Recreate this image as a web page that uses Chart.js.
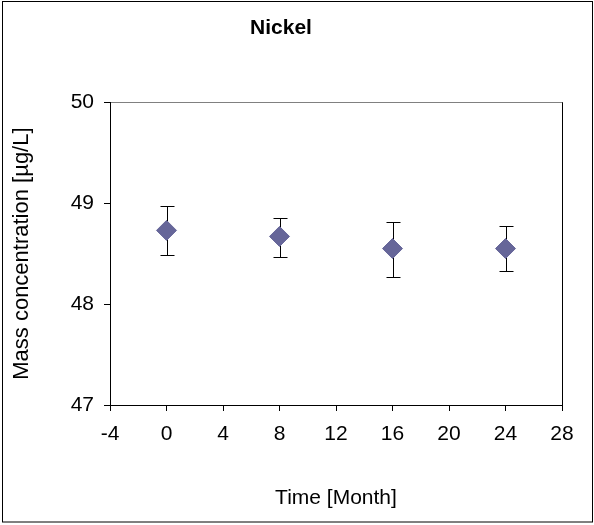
<!DOCTYPE html>
<html>
<head>
<meta charset="utf-8">
<script src="https://cdn.jsdelivr.net/npm/chart.js@4"></script>
<style>
  html, body { margin: 0; padding: 0; background: #fff; }
  #wrap { width: 594px; height: 525px; position: relative; }
</style>
</head>
<body>
<div id="wrap"><canvas id="nickel"></canvas></div>
<script>
// Nickel stability study
const months = [0, 8, 16, 24]
const massConc = [48.73, 48.67, 48.55, 48.55]
const errLow = [48.49, 48.47, 48.27, 48.33]
const errHigh = [48.97, 48.85, 48.81, 48.77]

const xTicks = [-4, 0, 4, 8, 12, 16, 20, 24, 28]
const yTicks = [47, 48, 49, 50]

const font = 'Liberation Sans, Arial, sans-serif'

// vertical error bars with caps, drawn behind the diamonds
const errorBars = {
    id: 'errorBars',
    beforeDatasetsDraw(chart) {
        const ctx = chart.ctx
        const x = chart.scales.x
        const y = chart.scales.y
        ctx.save()
        ctx.strokeStyle = '#000'
        ctx.lineWidth = 1
        months.forEach((m, i) => {
            const px = Math.round(x.getPixelForValue(m)) + 0.5
            const top = Math.round(y.getPixelForValue(errHigh[i])) + 0.5
            const bot = Math.round(y.getPixelForValue(errLow[i])) + 0.5
            ctx.beginPath()
            ctx.moveTo(px, top); ctx.lineTo(px, bot)
            ctx.moveTo(px - 7, top); ctx.lineTo(px + 7, top)
            ctx.moveTo(px - 7, bot); ctx.lineTo(px + 7, bot)
            ctx.stroke()
        })
        ctx.restore()
    }
}

// outer chart frame
const frame = {
    id: 'frame',
    afterDraw(chart) {
        const ctx = chart.ctx
        ctx.save()
        ctx.strokeStyle = '#000'
        ctx.lineWidth = 1
        ctx.strokeRect(2.5, 1.5, 590, 520.5)
        ctx.restore()
    }
}

new Chart(document.getElementById('nickel'), {
    type: 'scatter',
    data: {
        datasets: [{
            label: 'Nickel',
            data: months.map((m, i) => ({x: m, y: massConc[i]})),
            pointStyle: 'rectRot',
            pointRadius: 10,
            pointHoverRadius: 10,
            borderWidth: 1,
            backgroundColor: '#666699',
            borderColor: '#666699'
        }]
    },
    options: {
        responsive: true,
        maintainAspectRatio: false,
        animation: false,
        layout: {padding: {left: 0, right: 32, top: 0, bottom: 0}},
        plugins: {
            legend: {display: false},
            tooltip: {enabled: false},
            title: {
                display: true,
                text: 'Nickel',
                color: '#000',
                font: {family: font, size: 21, weight: 'bold'},
                padding: {top: 16, bottom: 61}
            }
        },
        scales: {
            x: {
                type: 'linear',
                min: -4,
                max: 28,
                afterBuildTicks: s => { s.ticks = xTicks.map(v => ({value: v})) },
                afterFit: s => { s.height = 120 },
                ticks: {color: '#000', font: {family: font, size: 21}, padding: 11, maxRotation: 0},
                grid: {
                    drawOnChartArea: true,
                    color: c => c.tick && c.tick.value === 28 ? '#000' : 'rgba(0,0,0,0)',
                    tickColor: '#000',
                    tickLength: 6
                },
                border: {color: '#000', width: 1},
                title: {
                    display: true,
                    text: 'Time [Month]',
                    color: '#000',
                    font: {family: font, size: 21},
                    padding: {top: 0, bottom: 14}
                }
            },
            y: {
                min: 47,
                max: 50,
                afterBuildTicks: s => { s.ticks = yTicks.map(v => ({value: v})) },
                afterFit: s => { s.width = 110 },
                ticks: {color: '#000', font: {family: font, size: 21}, padding: 10},
                grid: {
                    color: c => c.tick && c.tick.value === 50 ? '#808080' : 'rgba(0,0,0,0)',
                    tickColor: '#000',
                    tickLength: 6
                },
                border: {color: '#000', width: 1},
                title: {
                    display: true,
                    text: 'Mass concentration [µg/L]',
                    color: '#000',
                    font: {family: font, size: 22},
                    padding: {top: 9, bottom: 0}
                }
            }
        }
    },
    plugins: [errorBars, frame]
});
</script>
</body>
</html>
